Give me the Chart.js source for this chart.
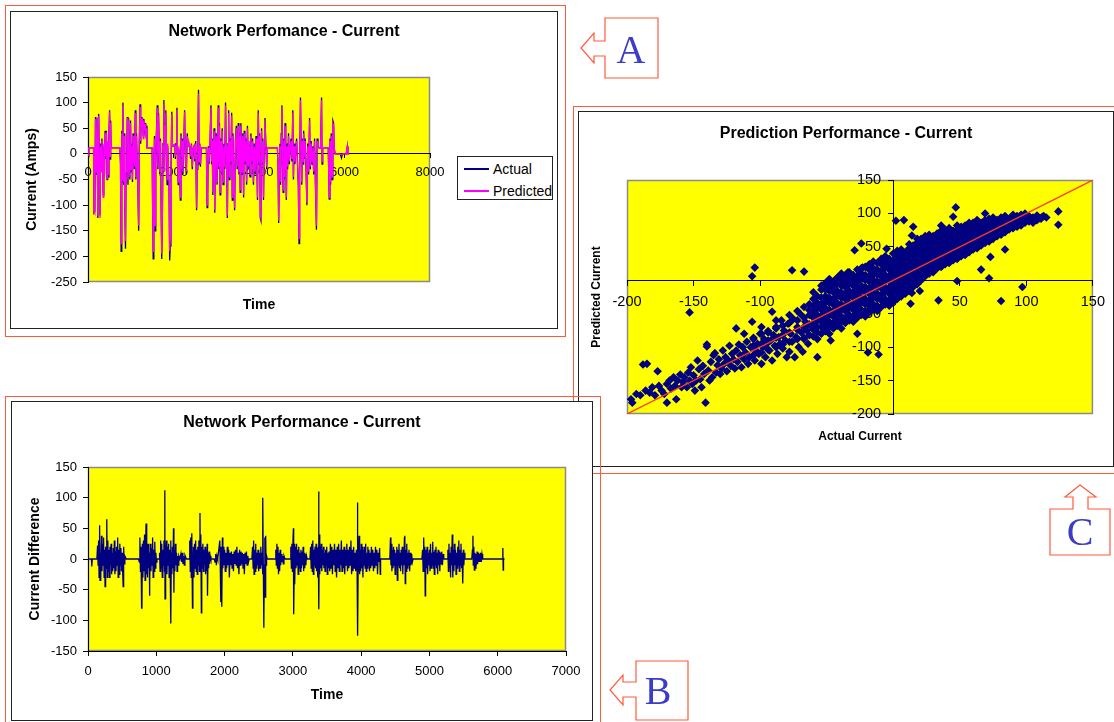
<!DOCTYPE html>
<html>
<head>
<meta charset="utf-8">
<title>Network performance - current</title>
<script src="https://cdn.jsdelivr.net/npm/chart.js@4.4.1/dist/chart.umd.min.js"></script>
<style>
  html, body { margin: 0; padding: 0; background: #fff; }
  body { width: 1114px; height: 722px; position: relative; overflow: hidden;
         font-family: "Liberation Sans", Arial, sans-serif; }
  .orange { position: absolute; border: 1px solid #ff5a3c; box-sizing: border-box; }
  .frame { position: absolute; border: 1px solid #222; box-sizing: border-box; background: #fff; }
  .frame canvas { position: absolute; left: 0; top: 0; }
  #legendA { position: absolute; left: 457px; top: 156px; width: 96px; height: 44px;
             border: 1px solid #222; box-sizing: border-box; background: #fff; font-size: 14px; }
  #legendA .row { position: absolute; left: 0; height: 16px; line-height: 16px; white-space: nowrap; }
  #legendA .sw { position: absolute; left: 6px; top: 7px; width: 25px; height: 2px; }
  #legendA .txt { position: absolute; left: 35px; top: 0; }
  svg#callouts { position: absolute; left: 0; top: 0; z-index: 10; }
</style>
</head>
<body>

<!-- C sits underneath B -->
<div class="orange" style="left:573px;top:106px;width:600px;height:368px;z-index:1"></div>
<div class="frame" style="left:578px;top:111px;width:536px;height:356px;z-index:1">
  <canvas id="chartC" width="534" height="354"></canvas>
</div>

<div class="orange" style="left:5px;top:5px;width:561px;height:332px;z-index:2"></div>
<div class="frame" style="left:10px;top:11px;width:548px;height:318px;z-index:2">
  <canvas id="chartA" width="546" height="316"></canvas>
</div>
<div id="legendA" style="z-index:3">
  <div class="row" style="top:4px"><span class="sw" style="background:#000080"></span><span class="txt">Actual</span></div>
  <div class="row" style="top:26px"><span class="sw" style="background:#ff00ff"></span><span class="txt">Predicted</span></div>
</div>

<div class="orange" style="left:5px;top:396px;width:596px;height:340px;z-index:3"></div>
<div class="frame" style="left:11px;top:401px;width:582px;height:320px;z-index:4">
  <canvas id="chartB" width="580" height="318"></canvas>
</div>

<svg id="callouts" width="1114" height="722">
  <g fill="none" stroke="#ff5a3c" stroke-width="1.2">
    <polygon points="658,18 658,78 605,78 605,56 594,56 594,63 581,48 594,33 594,41 605,41 605,18"/>
    <polygon points="688,661 688,720 636,720 636,697 623,697 623,705 610,690 623,675 623,682 636,682 636,661"/>
    <polygon points="1050,509 1073,509 1073,497 1065,497 1080,485 1096,497 1088,497 1088,509 1110,509 1110,555 1050,555"/>
  </g>
  <g font-family="'Liberation Serif', 'Times New Roman', serif" font-size="40" fill="#3c3cc8" text-anchor="middle">
    <text x="631" y="63">A</text>
    <text x="658" y="704">B</text>
    <text x="1080" y="545">C</text>
  </g>
</svg>

<script>
// ---------- chart A: actual vs predicted current ----------
const aXTicks = [0, 2000, 4000, 6000, 8000];
const aYTicks = [-250, -200, -150, -100, -50, 0, 50, 100, 150];
const aTime = [
  0,20,130,
  140,160,175,195,210,230,250,265,280,295,310,325,340,355,370,385,400,415,430,445,460,475,490,505,520,530,540,
  745,
  760,775,790,800,817,832,845,860,877,890,905,919,935,950,965,980,995,1010,1025,1040,1055,1070,1085,1106,1120,1135,1150,1165,1185,1200,1217,1232,1247,1262,1277,1292,1307,1322,1337,1352,1367,1380,
  1500,
  1510,1525,1540,1555,1570,1585,1600,1620,1635,1650,1665,1680,1695,1710,1725,1740,1755,1775,1790,1805,1820,1835,1850,1865,1880,1895,1910,1925,1940,1960,1975,1990,2030,2045,2060,2080,2095,2110,2125,2140,2160,2175,2190,2205,2220,2240,2260,2280,2300,2320,2340,2360,
  2380,2400,2420,2440,2460,2480,2500,2520,2540,2555,2570,2585,2600,2615,2630,2650,
  2770,2785,2800,2815,2830,2850,2876,2890,2905,2920,2935,2950,2965,2980,3000,3020,3047,3060,3075,3090,3105,3120,3140,3160,3180,3200,3217,3232,3247,3260,3275,3290,3305,3320,3340,3360,3375,3390,3410,3430,3450,3470,3490,3515,3530,3545,3560,3575,3590,3605,3620,3640,3655,3670,3690,3710,3730,3750,3770,3790,3810,3830,3850,3870,3890,3910,3930,3950,3965,3983,4000,4015,4030,4045,4060,4075,4090,4105,4120,4140,4160,4180,4196,
  4430,4445,4460,4475,4490,4505,4520,4536,4550,4565,4580,4595,4610,4625,4640,4655,4670,4690,4710,4730,4750,4770,4791,4805,4820,4840,4860,4880,4900,4920,4936,4950,4970,4985,5000,5015,5030,5045,5060,5080,5100,5120,5140,5160,5183,5200,5220,5240,5260,5280,5300,5320,5344,5360,5380,5400,
  5440,5463,5475,5490,5620,5642,5660,5675,5690,5710,5727,5745,5760,5780,5900,5930,5950,6040,6067,6080,6110
];
const aActual = [
  -5,12,12,
  -115,-112,72,-40,70,-125,78,-20,-120,20,-30,30,-15,-80,15,-40,45,-10,45,-50,20,-45,40,85,-10,65,12,
  12,
  -20,-190,45,-55,100,-60,40,-100,-185,-40,-15,72,-60,70,-20,-50,65,-35,20,-55,40,-10,-30,85,-50,40,-20,-60,-150,25,97,20,72,55,70,35,68,40,60,35,55,12,
  12,
  -90,-205,-60,35,-150,-20,40,95,-30,80,15,-40,30,-100,-205,-120,20,105,-30,60,85,15,-60,15,-30,-60,-208,-180,-40,82,20,15,18,-10,20,90,-20,-60,10,-30,-90,40,-10,30,-40,20,85,-15,-40,40,15,20,
  15,-10,20,-30,10,15,-15,25,-110,-30,20,125,-20,20,-25,12,
  12,-105,-80,15,-20,12,95,-20,30,-80,20,50,-115,-20,40,-60,95,-30,60,-80,30,-40,50,-60,20,-30,100,10,-50,-125,20,85,-50,30,-20,80,-90,40,-40,-110,30,55,-30,60,-40,40,-75,60,10,-40,40,-85,45,-20,30,-60,55,-30,20,-45,40,-20,30,-60,20,-40,35,-20,-90,85,-20,40,-125,-130,50,-20,30,-90,10,70,20,-30,12,
  12,-20,-135,-40,20,-60,40,95,-20,-75,30,-50,60,-20,-90,20,-30,40,-20,12,30,-15,85,-50,20,-20,12,30,-20,-60,-175,-20,110,20,-60,30,-20,45,-10,30,-30,-100,20,-40,70,-30,25,-20,15,-40,30,-60,-148,30,15,12,
  12,110,-20,12,12,-88,30,-60,40,-50,65,60,10,0,0,-8,0,0,15,0,0
];
const aPredicted = [
  -3,12,12,
  -110,-115,68,-35,72,-120,74,-15,-125,15,-35,25,-10,-85,20,-45,40,-5,42,-48,25,-40,35,82,-5,60,12,
  12,
  -15,-175,40,-50,95,-55,35,-95,-170,-35,-20,70,-50,65,-25,-45,60,-30,15,-50,35,-5,-25,80,-45,35,-15,-55,-140,20,92,25,70,52,68,30,65,45,58,30,50,12,
  12,
  -85,-190,-50,30,-140,-15,35,90,-25,75,18,-35,25,-95,-195,-115,15,98,-35,55,80,18,-50,20,-25,-55,-190,-165,-35,78,15,15,18,-5,15,85,-15,-55,15,-25,-85,35,-5,25,-35,25,82,-10,-35,35,15,22,
  15,-5,18,-25,12,15,-10,20,-105,-25,15,118,-15,18,-20,12,
  12,-100,-75,12,-15,12,90,-15,25,-75,15,45,-110,-15,35,-55,90,-25,55,-75,25,-35,45,-55,15,-25,95,15,-45,-120,15,80,-45,25,-15,75,-85,35,-35,-105,25,50,-25,55,-35,35,-70,55,15,-35,35,-80,40,-15,25,-55,50,-25,25,-40,35,-15,25,-55,15,-35,30,-15,-85,80,-15,35,-120,-125,45,-15,25,-85,15,65,15,-25,12,
  12,-15,-130,-35,15,-55,35,90,-15,-70,25,-45,55,-15,-85,15,-25,35,-15,12,25,-10,80,-45,15,-15,12,25,-15,-55,-165,-15,105,15,-55,25,-15,40,-5,25,-25,-95,15,-35,65,-25,20,-15,12,-35,25,-55,-140,25,12,12,
  12,105,-15,12,12,-85,25,-55,35,-45,60,55,12,0,0,-2,0,0,15,0,2
];

// ---------- chart B: current difference over time, [time, difference] ----------
const bXTicks = [0, 1000, 2000, 3000, 4000, 5000, 6000, 7000];
const bYTicks = [-150, -100, -50, 0, 50, 100, 150];
const diffSeries = [
  [0,0],[50,0],[56,-12],[62,0],[130,0],
  [140,22],[148,-10],[155,30],[162,-30],[170,55],[176,-35],[184,10],[190,-25],[198,38],[205,-20],[212,25],[220,-10],[228,35],[236,-30],[244,15],[250,-45],[258,20],[265,-15],[275,65],[282,-30],[290,30],[298,-20],[306,15],[314,-30],[322,20],[330,-10],[338,25],[346,-25],[354,10],[362,-20],[370,18],[378,-15],[386,30],[394,-25],[402,12],[410,-20],[418,20],[426,-10],[434,35],[442,-30],[450,15],[458,-25],[466,25],[474,-10],[482,18],[490,-20],[498,10],[506,-15],[515,-45],[522,20],[530,-8],[540,5],[560,0],
  [740,0],
  [752,-5],[760,35],[768,-20],[776,20],[785,-80],[790,-78],[796,25],[804,-30],[812,30],[820,-20],[828,40],[836,-35],[844,20],[850,58],[856,-25],[864,15],[872,-30],[880,25],[888,-15],[896,10],[900,-60],[906,-40],[914,25],[922,-20],[930,18],[938,-10],[946,35],[954,-30],[962,15],[970,-20],[978,28],[986,-15],[994,10],[1002,-5],[1010,0],
  [1040,0],[1048,10],[1056,-20],[1064,30],[1072,-15],[1080,25],[1088,-30],[1096,15],[1104,-10],[1112,30],[1120,-20],[1125,112],[1128,-65],[1134,20],[1140,-15],[1148,30],[1156,-25],[1164,20],[1172,-10],[1180,25],[1188,-30],[1196,15],[1204,-20],[1210,30],[1215,-105],[1220,10],[1228,-25],[1236,20],[1244,-15],[1252,50],[1258,-55],[1264,15],[1272,-20],[1280,25],[1288,-10],[1296,10],[1304,-20],[1312,5],[1320,-10],[1330,5],[1345,0],
  [1360,8],[1370,-5],[1380,10],[1390,-8],[1400,5],[1410,-10],[1420,6],[1440,0],[1480,0],
  [1490,30],[1498,-20],[1505,35],[1512,-30],[1520,42],[1530,-80],[1536,-25],[1544,20],[1552,-30],[1560,25],[1568,-15],[1576,30],[1584,-20],[1592,15],[1600,-25],[1608,20],[1616,-10],[1624,30],[1632,-20],[1640,75],[1645,-15],[1652,40],[1660,-88],[1666,20],[1674,-15],[1682,25],[1690,-20],[1698,15],[1706,-10],[1714,20],[1722,-25],[1730,15],[1738,-20],[1745,25],[1750,-60],[1758,10],[1766,-15],[1774,12],[1782,-8],[1790,5],[1800,0],
  [1850,0],[1860,-5],[1870,8],[1880,-10],[1890,5],[1900,0],
  [1930,30],[1938,-20],[1945,-70],[1950,20],[1956,-40],[1962,-78],[1968,35],[1975,-15],[1982,20],[1990,-10],[2000,15],[2010,-20],[2020,10],[2030,-15],[2040,20],[2050,-10],[2060,15],[2070,-30],[2080,10],[2090,-10],[2100,12],[2110,-15],[2120,8],[2130,-20],[2140,12],[2150,-8],[2160,15],[2170,-10],[2180,20],[2190,-15],[2200,10],[2210,-25],[2220,15],[2230,-10],[2240,12],[2250,-8],[2260,10],[2270,-15],[2280,8],[2290,-25],[2300,10],[2310,-8],[2320,12],[2330,-10],[2340,5],[2350,-5],[2360,0],
  [2400,0],[2410,20],[2418,-15],[2425,30],[2432,-25],[2440,15],[2448,-20],[2456,25],[2464,-15],[2472,10],[2480,-10],[2490,15],[2500,-20],[2510,10],[2520,-15],[2530,20],[2540,-10],[2550,10],[2556,-25],[2562,100],[2568,-20],[2575,-112],[2582,-10],[2590,35],[2596,-62],[2602,38],[2608,-10],[2615,5],[2625,0],
  [2740,0],[2750,15],[2758,-10],[2766,25],[2774,-15],[2782,20],[2790,-25],[2798,10],[2806,-20],[2814,15],[2822,-10],[2830,8],[2840,-5],[2850,5],[2860,-8],[2870,5],[2885,0],
  [2960,0],[2970,20],[2978,-15],[2986,25],[2994,-20],[3002,30],[3008,50],[3012,-90],[3018,-40],[3024,25],[3030,-40],[3038,20],[3046,-15],[3054,25],[3062,-10],[3070,15],[3078,-25],[3086,20],[3094,-15],[3102,10],[3110,-20],[3118,15],[3126,-15],[3134,12],[3142,-10],[3150,20],[3158,-20],[3166,10],[3174,-15],[3182,8],[3190,-10],[3200,5],[3210,0],
  [3250,0],[3260,20],[3268,-15],[3276,25],[3284,-20],[3292,30],[3300,-25],[3308,15],[3316,-10],[3324,20],[3332,-15],[3340,25],[3348,-20],[3356,18],[3364,-30],[3372,20],[3378,110],[3382,-82],[3388,40],[3394,-25],[3400,20],[3408,-15],[3416,25],[3424,-20],[3432,15],[3440,-10],[3448,20],[3456,-15],[3464,10],[3472,-20],[3480,15],[3488,-10],[3496,20],[3504,-25],[3512,10],[3520,-15],[3530,12],
  [3540,-20],[3550,25],[3560,-15],[3570,20],[3580,-25],[3590,15],[3600,-10],[3610,25],[3620,-20],[3630,15],[3640,-30],[3650,20],[3660,-15],[3670,25],[3680,-20],[3690,15],[3700,-10],[3710,30],[3720,-20],[3730,15],[3740,-15],[3750,20],[3760,-25],[3770,15],[3780,-10],[3790,25],[3800,-20],[3810,15],[3820,-15],[3830,20],[3840,-10],[3850,30],[3860,-25],[3870,15],[3880,-20],[3890,20],[3900,-15],[3910,10],[3920,-20],[3930,15],[3940,-10],[3946,92],[3950,-125],[3956,-20],[3962,20],[3970,38],[3978,-25],[3986,15],[3994,-20],[4002,25],[4010,-15],[4018,20],[4026,-30],[4034,15],[4042,-10],[4050,20],[4058,-15],[4066,25],[4074,-20],[4082,10],[4090,-15],[4098,20],[4106,-10],[4114,15],[4122,-20],[4130,10],[4140,-15],[4150,20],[4160,-10],[4170,15],[4180,-20],[4190,10],[4200,-15],[4210,20],[4220,-10],[4230,15],[4240,-25],[4250,10],[4260,-5],[4270,18],[4280,-25],[4285,0],
  [4420,0],[4430,35],[4436,-10],[4442,25],[4450,-20],[4458,15],[4466,-15],[4474,20],[4482,-10],[4490,15],[4498,-25],[4506,10],[4514,-10],[4522,20],[4530,-35],[4538,15],[4546,-10],[4554,25],[4562,-15],[4570,10],[4578,-20],[4586,15],[4594,-10],[4602,20],[4610,-25],[4618,15],[4626,-10],[4634,35],[4640,38],[4646,-40],[4652,15],[4660,-20],[4668,25],[4676,-15],[4684,10],[4692,-10],[4700,15],[4710,-20],[4720,10],[4730,-10],[4740,8],[4750,-5],[4760,0],
  [4890,0],[4900,15],[4908,-20],[4916,35],[4924,-10],[4932,20],[4938,-60],[4944,-45],[4950,15],[4958,-15],[4966,20],[4974,-25],[4982,10],[4990,-10],[5000,15],[5008,-20],[5016,25],[5024,-15],[5032,10],[5040,-10],[5048,28],[5056,-15],[5064,12],[5072,-25],[5080,15],[5088,-10],[5096,20],[5104,-15],[5112,10],[5120,-25],[5128,15],[5136,-10],[5144,12],[5152,-20],[5160,10],[5170,-8],[5180,12],[5190,-10],[5200,8],[5210,0],
  [5260,0],[5270,15],[5278,-20],[5286,25],[5294,-15],[5302,10],[5310,-30],[5318,20],[5326,-10],[5334,40],[5342,-30],[5350,15],[5358,-20],[5366,25],[5374,-10],[5382,15],[5390,-25],[5398,10],[5406,-15],[5414,20],[5422,-10],[5430,30],[5438,-20],[5446,15],[5454,-10],[5462,25],[5470,-15],[5478,10],[5486,-20],[5490,-40],[5496,15],[5504,-10],[5512,10],[5520,0],
  [5620,0],[5630,15],[5637,38],[5642,-10],[5650,20],[5658,-18],[5666,10],[5674,-15],[5682,8],[5690,-10],[5698,12],[5706,-8],[5714,10],[5722,-5],[5730,8],[5740,-5],[5750,10],[5760,-5],[5770,8],[5780,0],[5800,0],
  [6070,0],[6075,18],[6080,-18],[6085,0],[6100,0]
];

// ---------- chart C: predicted vs actual current ----------
const cXTicks = [-200, -150, -100, -50, 0, 50, 100, 150];
const cYTicks = [-200, -150, -100, -50, 0, 50, 100, 150];
const cFitLine = [-200, 150];
// scattered points, [actual, predicted]
const cPairs = [
  [-197,-178],[-196,-183],[-193,-170],[-190,-172],[-188,-126],[-185,-125],[-186,-165],[-183,-168],[-181,-160],[-179,-172],
  [-177,-136],[-176,-158],[-174,-165],[-172,-170],[-170,-183],[-170,-155],[-168,-150],[-167,-162],[-165,-145],[-164,-158],
  [-163,-178],[-162,-150],[-160,-141],[-159,-160],[-158,-152],[-157,-145],[-155,-160],[-154,-138],[-153,-48],[-153,-150],
  [-152,-130],[-151,-155],[-150,-142],[-149,-165],[-148,-150],[-147,-120],[-146,-133],[-145,-148],[-144,-160],[-143,-128],
  [-142,-140],[-141,-183],[-140,-96],[-140,-99],[-139,-135],[-138,-150],[-137,-122],[-136,-145],[-135,-112],[-134,-109],
  [-133,-138],[-132,-127],[-131,-118],[-130,-140],[-129,-132],[-128,-105],[-127,-125],[-126,-115],[-125,-136],[-124,-120],
  [-123,-98],[-122,-128],[-121,-110],[-120,-118],[-119,-132],[-118,-72],[-118,-105],[-117,-122],[-116,-96],[-115,-112],
  [-114,-130],[-113,-100],[-112,-80],[-112,-118],[-111,-108],[-110,-92],[-109,-125],[-108,-115],[-107,-100],[-106,-62],
  [-106,6],[-105,-88],[-104,19],[-104,-120],[-103,-105],[-102,-95],[-101,-110],[-100,-80],[-99,-70],[-99,-125],
  [-98,-100],[-97,-88],[-96,-115],[-95,-95],[-94,-78],[-93,-105],[-92,-90],[-91,-47],[-91,-120],[-90,-82],
  [-89,-98],[-88,-70],[-87,-110],[-86,-85],[-85,-95],[-84,-60],[-83,-102],[-82,-75],[-81,-90],[-80,-115],
  [-79,-65],[-78,-107],[-77,-80],[-76,15],[-76,-92],[-75,-58],[-74,-115],[-73,-85],[-72,-70],[-71,-100],
  [-70,-50],[-69,-78],[-68,-107],[-67,13],[-67,-88],[-66,-62],[-65,-75],[-64,-95],[-63,-45],[-62,-68],
  [-57,-115],[-47,-90],[-47,-12],[-34,12],[-29,45],[-27,-80],[-24,55],[-23,19],[-19,-108],[-11,-111],
  [-5,47],[2,89],[8,90],[13,-35],[14,-19],[14,67],[15,80],[20,-16],[34,-30],[36,82],
  [45,95],[47,109],[48,-1],[66,16],[69,100],[72,3],[73,35],[81,-31],[84,46],[97,-10],
  [110,93],[112,95],[113,96],[115,94],[124,103],[124,83]
];
// the dense band, one column per actual value: [actual, [predicted values]]
const cBand = [
  [-105,[-112,-98,-86]],[-99,[-108,-95,-80]],[-94,[-104,-90,-76]],[-88,[-100,-86,-72,-60]],
  [-83,[-96,-82,-68]],[-78,[-92,-78,-64,-52]],[-72,[-88,-74,-60,-46]],[-67,[-86,-70,-56,-40]],
  [-63,[-82,-66,-52,-36]],
  [-60,[-84,-74,-64,-56,-46,-38,-28,-18]],[-57,[-88,-78,-70,-60,-52,-42,-34,-24]],
  [-54,[-80,-70,-62,-54,-44,-36,-26,-14,-8]],[-51,[-76,-68,-58,-50,-42,-32,-24,-14,-4]],
  [-48,[-80,-70,-62,-52,-44,-34,-26,-16,-8,2]],[-45,[-72,-64,-54,-46,-36,-28,-18,-10,-2]],
  [-42,[-68,-60,-50,-42,-34,-24,-16,-6,4]],[-39,[-72,-62,-54,-44,-36,-26,-18,-8,0,10]],
  [-36,[-64,-56,-46,-38,-28,-20,-10,-2,6]],[-33,[-60,-52,-42,-34,-24,-16,-6,2,12]],
  [-30,[-62,-54,-44,-36,-26,-18,-8,0,8]],[-27,[-56,-48,-38,-30,-20,-12,-2,6,16]],
  [-24,[-52,-44,-34,-26,-16,-8,2,10,18]],[-21,[-54,-46,-36,-28,-18,-10,0,8,20]],
  [-18,[-48,-38,-30,-20,-12,-2,6,16,24]],[-15,[-44,-36,-26,-18,-8,0,10,18,28]],
  [-12,[-46,-38,-28,-20,-10,-2,8,16,26]],[-9,[-40,-30,-22,-12,-4,6,14,24,32]],
  [-6,[-36,-28,-18,-10,0,8,18,26,36]],[-3,[-38,-30,-20,-12,-2,6,16,24,32]],
  [0,[-32,-24,-14,-6,4,12,22,30,40]],[3,[-28,-18,-10,0,8,18,26,36,44]],
  [6,[-24,-16,-6,2,12,20,30,38,46]],[9,[-20,-12,-2,6,16,24,34,42]],
  [12,[-16,-6,2,12,20,30,38,48,54]],[15,[-10,0,8,18,26,36,44,52]],
  [18,[-6,4,12,22,30,40,48,56,62]],[21,[0,8,18,26,36,44,54,62]],
  [24,[6,14,24,32,42,50,58,66]],[27,[10,18,28,36,46,54,62,68]],
  [30,[12,22,30,40,48,58,66]],[33,[18,26,36,44,54,62,70]],
  [36,[20,30,38,48,56,66,74]],[39,[24,32,42,50,60,68,76]],
  [42,[26,36,44,54,62,72,78]],[45,[30,38,48,56,66,74]],
  [48,[32,42,50,60,68,76,82]],[51,[36,44,54,62,72,80]],
  [54,[38,48,56,66,74,82]],[57,[42,52,60,70,78,86]],
  [60,[46,54,64,72,80,86]],[63,[48,58,66,76,84,90]],
  [66,[52,60,70,78,86]],[69,[56,64,74,82,90]],
  [72,[58,68,76,84,92]],[75,[62,70,80,88,94]],
  [78,[66,74,82,90]],[81,[68,78,86,94]],[84,[72,80,88,96]],[87,[76,84,92]],
  [90,[78,86,94,98]],[93,[80,88,96]],[96,[82,90,98]],[99,[86,94,100]],
  [102,[88,96]],[105,[86,94]],[108,[90,97]],[111,[92]]
];

Chart.defaults.font.family = "'Liberation Sans', Arial, sans-serif";
Chart.defaults.color = '#000';

// yellow plot area with a grey edge, drawn before the axes
const plotArea = {
  id: 'plotArea',
  beforeDraw(chart) {
    const { ctx, chartArea: a } = chart;
    ctx.save();
    ctx.fillStyle = '#ffff00';
    ctx.fillRect(a.left, a.top, a.right - a.left, a.bottom - a.top);
    ctx.strokeStyle = '#8a8a8a';
    ctx.lineWidth = 1.5;
    ctx.strokeRect(a.left + 0.5, a.top + 0.5, a.right - a.left - 1, a.bottom - a.top - 1);
    ctx.restore();
  }
};

const fixTicks = list => scale => { scale.ticks = list.map(v => ({ value: v })); };
const plain = v => String(v);
const tickMarks = len => ({ drawOnChartArea: false, drawTicks: true, color: '#000', tickLength: len });
const blackBorder = { color: '#000', width: 1 };
const titleOnly = (text, size, padding) => ({
  ticks: { display: false },
  grid: { display: false },
  border: { display: false },
  title: { display: !!text, text: text, font: { size: size, weight: 'bold' }, color: '#000', padding: padding }
});
// empty axis that only holds space on the right of the plot
const spacer = width => ({
  type: 'linear', position: 'right', min: 0, max: 1,
  afterFit: s => { s.width = width; },
  ...titleOnly('', 12, 0)
});

const common = {
  responsive: false,
  animation: false,
  events: [],
  devicePixelRatio: 1
};

// ---- A ----
new Chart(document.getElementById('chartA'), {
  type: 'line',
  data: {
    datasets: [
      {
        label: 'Actual',
        data: aTime.map((t, i) => ({ x: t, y: aActual[i] })),
        borderColor: '#000080', borderWidth: 1.3, pointRadius: 0, tension: 0,
        xAxisID: 'x', yAxisID: 'y', order: 2
      },
      {
        label: 'Predicted',
        data: aTime.map((t, i) => ({ x: t, y: aPredicted[i] })),
        borderColor: '#ff00ff', borderWidth: 1.3, pointRadius: 0, tension: 0,
        xAxisID: 'x', yAxisID: 'y', order: 1
      }
    ]
  },
  options: {
    ...common,
    plugins: {
      legend: { display: false },
      tooltip: { enabled: false },
      title: {
        display: true, text: 'Network Perfomance - Current', color: '#000',
        font: { size: 16, weight: 'bold' }, padding: { top: 10.4, bottom: 35.4 }
      }
    },
    scales: {
      x: {
        type: 'linear', position: { y: 0 },
        min: aXTicks[0], max: aXTicks[aXTicks.length - 1],
        afterBuildTicks: fixTicks(aXTicks),
        grid: tickMarks(4), border: blackBorder,
        ticks: { font: { size: 13 }, color: '#000', padding: 7, maxRotation: 0, autoSkip: false, callback: plain }
      },
      y: {
        type: 'linear', position: 'left',
        min: aYTicks[0], max: aYTicks[aYTicks.length - 1],
        afterBuildTicks: fixTicks(aYTicks),
        afterFit: s => { s.width = 77; },
        grid: tickMarks(5), border: blackBorder,
        ticks: { font: { size: 13 }, color: '#000', padding: 6, autoSkip: false, callback: plain },
        title: { display: true, text: 'Current (Amps)', font: { size: 14, weight: 'bold' }, color: '#000', padding: { top: 13, bottom: 0 } }
      },
      xt: {
        type: 'linear', position: 'bottom', min: 0, max: 1,
        afterFit: s => { s.height = 46; },
        ...titleOnly('Time', 14, { top: 0, bottom: 14.6 })
      },
      yr: spacer(127)
    }
  },
  plugins: [plotArea]
});

// ---- B ----
new Chart(document.getElementById('chartB'), {
  type: 'line',
  data: {
    datasets: [{
      label: 'Current Difference',
      data: diffSeries.map(p => ({ x: p[0], y: p[1] })),
      borderColor: '#000080', borderWidth: 1.3, pointRadius: 0, tension: 0,
      xAxisID: 'x', yAxisID: 'y'
    }]
  },
  options: {
    ...common,
    plugins: {
      legend: { display: false },
      tooltip: { enabled: false },
      title: {
        display: true, text: 'Network Performance - Current', color: '#000',
        font: { size: 16, weight: 'bold' }, padding: { top: 11.4, bottom: 34.4 }
      }
    },
    scales: {
      x: {
        type: 'linear', position: 'bottom',
        min: bXTicks[0], max: bXTicks[bXTicks.length - 1],
        afterBuildTicks: fixTicks(bXTicks),
        afterFit: s => { s.height = 69; },
        grid: tickMarks(5), border: blackBorder,
        ticks: { font: { size: 13 }, color: '#000', padding: 8, maxRotation: 0, autoSkip: false, callback: plain },
        title: { display: true, text: 'Time', font: { size: 14, weight: 'bold' }, color: '#000', padding: { top: 0, bottom: 16.6 } }
      },
      y: {
        type: 'linear', position: 'left',
        min: bYTicks[0], max: bYTicks[bYTicks.length - 1],
        afterBuildTicks: fixTicks(bYTicks),
        afterFit: s => { s.width = 76; },
        grid: tickMarks(5), border: blackBorder,
        ticks: { font: { size: 13 }, color: '#000', padding: 6, autoSkip: false, callback: plain },
        title: { display: true, text: 'Current Difference', font: { size: 14, weight: 'bold' }, color: '#000', padding: { top: 14.6, bottom: 0 } }
      },
      yr: spacer(26)
    }
  },
  plugins: [plotArea]
});

// ---- C ----
const cPoints = cPairs.map(p => ({ x: p[0], y: p[1] }));
cBand.forEach(col => col[1].forEach(v => cPoints.push({ x: col[0], y: v })));

new Chart(document.getElementById('chartC'), {
  type: 'scatter',
  data: {
    datasets: [
      {
        label: 'Ideal',
        data: cFitLine.map(v => ({ x: v, y: v })),
        showLine: true, borderColor: '#ff3b1f', borderWidth: 1.3, pointRadius: 0,
        xAxisID: 'x', yAxisID: 'y'
      },
      {
        label: 'Current',
        data: cPoints,
        pointStyle: 'rectRot', pointRadius: 4.3, borderWidth: 0,
        backgroundColor: '#000080', borderColor: '#000080',
        xAxisID: 'x', yAxisID: 'y'
      }
    ]
  },
  options: {
    ...common,
    plugins: {
      legend: { display: false },
      tooltip: { enabled: false },
      title: {
        display: true, text: 'Prediction Performance - Current', color: '#000',
        font: { size: 16, weight: 'bold' }, padding: { top: 12.4, bottom: 36.4 }
      }
    },
    scales: {
      x: {
        type: 'linear', position: { y: 0 },
        min: cXTicks[0], max: cXTicks[cXTicks.length - 1],
        afterBuildTicks: fixTicks(cXTicks),
        grid: tickMarks(5), border: blackBorder,
        ticks: { font: { size: 14.5 }, color: '#000', padding: 8, maxRotation: 0, autoSkip: false, callback: plain }
      },
      y: {
        type: 'linear', position: { x: 0 },
        min: cYTicks[0], max: cYTicks[cYTicks.length - 1],
        afterBuildTicks: fixTicks(cYTicks),
        grid: tickMarks(5), border: blackBorder,
        // labels sit a little left of the crossing axis
        ticks: { font: { size: 14.5 }, color: '#000', padding: 7, autoSkip: false, callback: v => v + '   ' }
      },
      yt: {
        type: 'linear', position: 'left', min: 0, max: 1,
        afterFit: s => { s.width = 48; },
        ...titleOnly('Predicted Current', 12, { top: 10.8, bottom: 0 })
      },
      xt: {
        type: 'linear', position: 'bottom', min: 0, max: 1,
        afterFit: s => { s.height = 52; },
        ...titleOnly('Actual Current', 12, { top: 0, bottom: 21.8 })
      },
      yr: spacer(16)
    }
  },
  plugins: [plotArea]
});
</script>
</body>
</html>
